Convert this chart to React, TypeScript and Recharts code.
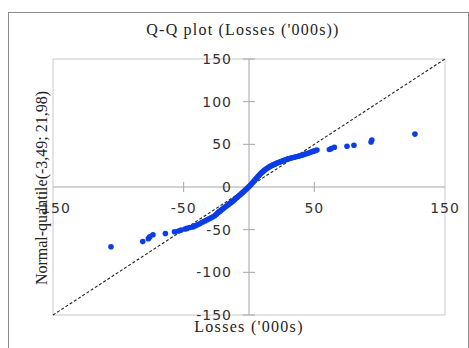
import React from "react";
import {
  ScatterChart,
  Scatter,
  XAxis,
  YAxis,
  ReferenceLine,
  ReferenceArea,
} from "recharts";

// sorted losses ('000s) and the matching normal quantiles
const lossValues = [
  -105.6, -81.3, -77, -76, -73.5, -64, -57, -54, -52, -49, -47.5, -45.5, -43,
  -41, -39.5, -38, -36.5, -35, -33.5, -32, -30.5, -29, -27.5, -26, -25, -24,
  -23, -22, -21, -20, -19, -18, -17, -16, -15, -14, -13, -12, -11, -10, -9, -8,
  -7, -6, -5, -4, -3, -2, -1, 0, 1, 2, 3, 4, 5, 6, 7, 8, 9, 10, 11, 12, 13, 14,
  15, 16, 17, 18, 19, 20, 21, 22, 23, 24, 25, 26, 27, 28, 29, 30, 31.5, 33,
  34.5, 36, 37.5, 39, 40.5, 42, 43.5, 45, 46.5, 48, 49.5, 51, 52, 61.5, 63,
  65.3, 75, 80.3, 93.4, 94, 127,
];
const normalQuantiles = [
  -70, -64, -60.5, -58.5, -56, -54.5, -52.5, -51.5, -50.5, -49.3, -48.5, -47.5,
  -46.8, -45.5, -44.3, -43.3, -42, -40.8, -39.5, -38.3, -37.2, -36, -34.8,
  -33.4, -32, -30.5, -29.2, -28, -26.8, -25.6, -24.4, -23.2, -22, -20.8, -19.6,
  -18.4, -17.2, -16, -14.6, -13.3, -12, -10.6, -9.3, -8, -6.6, -5.2, -3.8,
  -2.4, -1, 0.5, 2, 3.8, 5.5, 7.2, 9, 10.8, 12.5, 14.2, 15.8, 17.2, 18.6, 19.8,
  21, 22, 23, 23.9, 24.8, 25.6, 26.3, 27, 27.7, 28.4, 29, 29.6, 30.2, 30.8,
  31.4, 32, 32.6, 33.1, 33.6, 34.2, 34.8, 35.4, 36, 36.6, 37.2, 38, 38.8, 39.6,
  40.4, 41.2, 42, 42.8, 43.4, 44, 45, 46.5, 47.7, 49, 52.8, 55, 62,
];
const xTicks = [-150, -50, 50, 150];
const yTicks = [-150, -100, -50, 0, 50, 100, 150];

const points = lossValues.map((x, i) => ({ x, y: normalQuantiles[i] }));

const W = 469;
const H = 348;
const MARGIN = { top: 59, right: 24, bottom: 0, left: 0 };
const XAXIS_H = 33;
const YAXIS_W = 53;
const PLOT_W = W - MARGIN.right - YAXIS_W;
const PLOT_H = H - MARGIN.top - XAXIS_H;
const ZERO_X = YAXIS_W + PLOT_W / 2;
const ZERO_Y = MARGIN.top + PLOT_H / 2;

const axisGray = "#a6a6a6";
const tickFont = {
  fontFamily: "DejaVu Sans",
  fontSize: 14,
  fill: "#333",
  letterSpacing: 1,
};
const serif = "'Liberation Serif', 'Times New Roman', serif";

const XTick = (props: any) => {
  const { x, payload } = props;
  const edge = Math.abs(payload.value) === 150;
  return (
    <g>
      {!edge && (
        <line x1={x} x2={x} y1={ZERO_Y - 5} y2={ZERO_Y + 5} stroke={axisGray} />
      )}
      <text x={x} y={ZERO_Y + 26} textAnchor="middle" {...tickFont}>
        {payload.value}
      </text>
    </g>
  );
};

const YTick = (props: any) => {
  const { y, payload } = props;
  return (
    <g>
      {payload.value !== 0 && (
        <line x1={ZERO_X - 6} x2={ZERO_X + 6} y1={y} y2={y} stroke={axisGray} />
      )}
      <text x={ZERO_X - 17} y={y + 5} textAnchor="end" {...tickFont}>
        {payload.value}
      </text>
    </g>
  );
};

const Dot = (props: any) => (
  <circle cx={props.cx} cy={props.cy} r={2.8} fill="#0a3de8" />
);

export default function App() {
  return (
    <div style={{ position: "absolute", left: 0, top: 0, width: W, height: H }}>
      <div
        style={{
          position: "absolute",
          left: 8,
          top: 12,
          width: 459,
          height: 340,
          borderLeft: "1px solid #8c8c8c",
          borderTop: "1px solid #8c8c8c",
          borderRight: "1px solid #8c8c8c",
        }}
      />
      <div
        style={{
          position: "absolute",
          left: 43,
          top: 21,
          width: 400,
          textAlign: "center",
          fontFamily: serif,
          fontSize: 16,
          letterSpacing: 1.2,
          color: "#222",
        }}
      >
        Q-Q plot (Losses ('000s))
      </div>
      <div style={{ position: "absolute", left: 0, top: 0 }}>
        <ScatterChart width={W} height={H} margin={MARGIN}>
          <ReferenceArea
            x1={-150}
            x2={150}
            y1={-150}
            y2={150}
            fill="none"
            stroke="#c8c8c8"
          />
          <XAxis
            type="number"
            dataKey="x"
            domain={[-150, 150]}
            ticks={xTicks}
            height={XAXIS_H}
            axisLine={false}
            tickLine={false}
            tick={XTick}
            allowDataOverflow
          />
          <YAxis
            type="number"
            dataKey="y"
            domain={[-150, 150]}
            ticks={yTicks}
            width={YAXIS_W}
            axisLine={false}
            tickLine={false}
            tick={YTick}
            allowDataOverflow
          />
          <ReferenceLine y={0} stroke={axisGray} />
          <ReferenceLine x={0} stroke={axisGray} />
          <ReferenceLine
            segment={[
              { x: -150, y: -150 },
              { x: 150, y: 150 },
            ]}
            stroke="#222"
            strokeWidth={1.1}
            strokeDasharray="3 2"
          />
          <Scatter data={points} shape={Dot} isAnimationActive={false} />
        </ScatterChart>
      </div>
      <div
        style={{
          position: "absolute",
          left: 149,
          top: 318,
          width: 200,
          textAlign: "center",
          fontFamily: serif,
          fontSize: 16,
          letterSpacing: 1.3,
          color: "#222",
        }}
      >
        Losses ('000s)
      </div>
      <div
        style={{
          position: "absolute",
          left: 42 - 120,
          top: 188 - 9,
          width: 240,
          textAlign: "center",
          fontFamily: serif,
          fontSize: 16,
          color: "#222",
          transform: "rotate(-90deg)",
          whiteSpace: "nowrap",
        }}
      >
        Normal-quantile(-3,49; 21,98)
      </div>
    </div>
  );
}
